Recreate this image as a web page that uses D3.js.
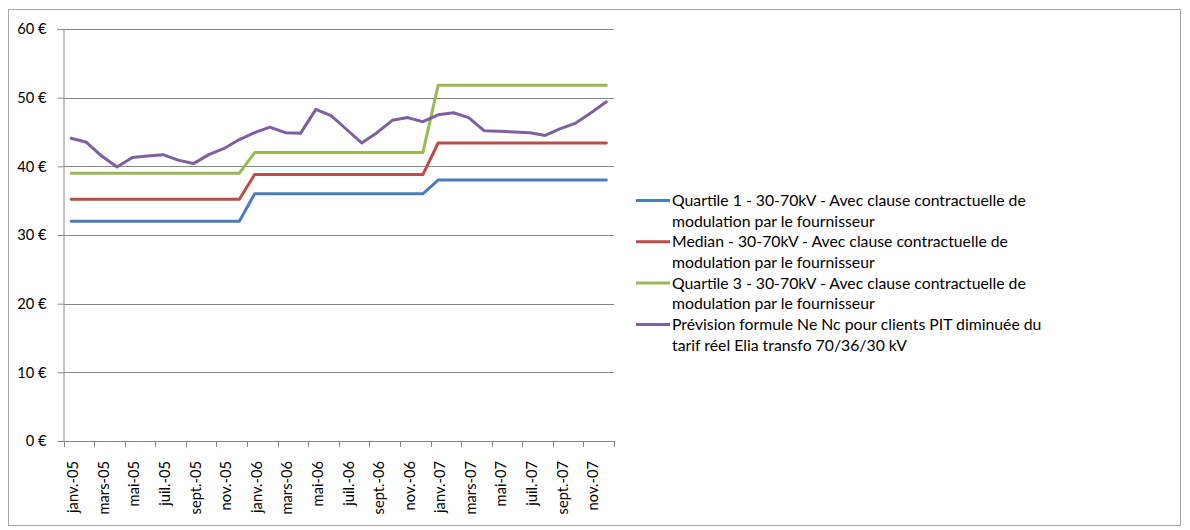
<!DOCTYPE html>
<html><head><meta charset="utf-8">
<script src="https://cdn.jsdelivr.net/npm/d3@7"></script>
<style>body{margin:0;background:#fff}svg{display:block}</style>
</head><body>
<svg id="c" width="1190" height="530"></svg>
<script>
const months = ["janv.","févr.","mars","avr.","mai","juin","juil.","août","sept.","oct.","nov.","déc."];
const years = ["05","06","07"];
const categories = [];
years.forEach(y => months.forEach(m => categories.push(m + "-" + y)));

const quartile1 = [32,32,32,32,32,32,32,32,32,32,32,32, 36,36,36,36,36,36,36,36,36,36,36,36, 38,38,38,38,38,38,38,38,38,38,38,38];
const median    = [35.2,35.2,35.2,35.2,35.2,35.2,35.2,35.2,35.2,35.2,35.2,35.2, 38.8,38.8,38.8,38.8,38.8,38.8,38.8,38.8,38.8,38.8,38.8,38.8, 43.4,43.4,43.4,43.4,43.4,43.4,43.4,43.4,43.4,43.4,43.4,43.4];
const quartile3 = [39,39,39,39,39,39,39,39,39,39,39,39, 42,42,42,42,42,42,42,42,42,42,42,42, 51.8,51.8,51.8,51.8,51.8,51.8,51.8,51.8,51.8,51.8,51.8,51.8];
const prevision = [44.1,43.5,41.5,39.9,41.3,41.5,41.7,40.9,40.4,41.7,42.6,43.9,
                   44.9,45.7,44.9,44.8,48.3,47.4,45.4,43.4,44.9,46.7,47.1,46.5,
                   47.5,47.8,47.1,45.2,45.1,45.0,44.9,44.5,45.5,46.3,47.8,49.4];
const yTicks = [0,10,20,30,40,50,60];
const seriesNames = [
  ["Quartile 1 - 30-70kV - Avec clause contractuelle de","modulation par le fournisseur"],
  ["Median - 30-70kV - Avec clause contractuelle de","modulation par le fournisseur"],
  ["Quartile 3 - 30-70kV - Avec clause contractuelle de","modulation par le fournisseur"],
  ["Prévision formule Ne Nc pour clients PIT diminuée du","tarif réel Elia transfo 70/36/30 kV"]
];
const colors = ["#4a7ebb","#be4b48","#98b954","#7d60a0"];
const series = [quartile1, median, quartile3, prevision];

const svg = d3.select("#c");
const font = "Lato, 'Open Sans', sans-serif";

function fitSize(sample, target, base) {
  const t = svg.append("text").attr("font-family",font).attr("font-size",base).text(sample);
  const w = t.node().getComputedTextLength();
  t.remove();
  return base * target / w;
}
const legendSize = fitSize(seriesNames[0][0], 354, 14);
const axisSize = fitSize("janv.-05", 52, 12);

svg.append("rect").attr("x",8.5).attr("y",9.5).attr("width",1172).attr("height",516)
  .attr("fill","#fff").attr("stroke","#a6a6a6");

const L = 63.5, R = 614, T = 29, B = 441;
const x = d3.scaleBand().domain(categories).range([L, R]);
const y = d3.scaleLinear().domain([0,60]).range([B, T]);

svg.append("g").selectAll("line").data(yTicks.filter(d=>d>0)).join("line")
  .attr("x1",L).attr("x2",R).attr("y1",d=>Math.round(y(d))+0.5).attr("y2",d=>Math.round(y(d))+0.5)
  .attr("stroke","#868686").attr("stroke-width",1);

const yAxis = d3.axisLeft(y).tickValues(yTicks).tickSize(6).tickFormat(d => d + " €");
const gy = svg.append("g").attr("transform",`translate(${L},0)`).call(yAxis);
gy.select(".domain").attr("stroke","#868686");
gy.selectAll(".tick line").attr("stroke","#868686");
gy.selectAll(".tick text").attr("font-family",font).attr("font-size",axisSize).attr("fill","#000").attr("x",-17);

const tickCats = categories.filter((d,i)=>i%2===0);
const gx = svg.append("g").attr("transform",`translate(0,${B})`);
gx.append("line").attr("x1",L).attr("x2",R).attr("y1",0.5).attr("y2",0.5).attr("stroke","#868686");
const tickPos = d3.range(0, categories.length+1, 2).map(i => i < categories.length ? x(categories[i]) : R);
gx.selectAll("line.t").data(tickPos).join("line").attr("class","t")
  .attr("x1",d=>Math.round(d)+0.5).attr("x2",d=>Math.round(d)+0.5).attr("y1",0).attr("y2",6).attr("stroke","#868686");
gx.selectAll("text").data(tickCats).join("text")
  .attr("transform", d => `translate(${x(d)+x.bandwidth()/2+2},${20}) rotate(-90)`)
  .attr("text-anchor","end").attr("dy","0.35em")
  .attr("font-family",font).attr("font-size",axisSize).attr("fill","#000")
  .text(d=>d);

const line = d3.line().x((d,i)=>x(categories[i])+x.bandwidth()/2).y(d=>y(d));
series.forEach((s,k)=>{
  svg.append("path").datum(s).attr("d",line).attr("fill","none")
    .attr("stroke",colors[k]).attr("stroke-width",3).attr("stroke-linejoin","round").attr("stroke-linecap","round");
});

const lg = svg.append("g");
seriesNames.forEach((lines,k)=>{
  const y0 = 200.5 + k*41.3;
  lg.append("line").attr("x1",636).attr("x2",670).attr("y1",y0).attr("y2",y0)
    .attr("stroke",colors[k]).attr("stroke-width",3);
  lines.forEach((t,j)=>{
    lg.append("text").attr("x",672).attr("y",y0 + j*20.7).attr("dy","0.35em")
      .attr("font-family",font).attr("font-size",legendSize).attr("fill","#000").text(t);
  });
});
</script>
</body></html>
